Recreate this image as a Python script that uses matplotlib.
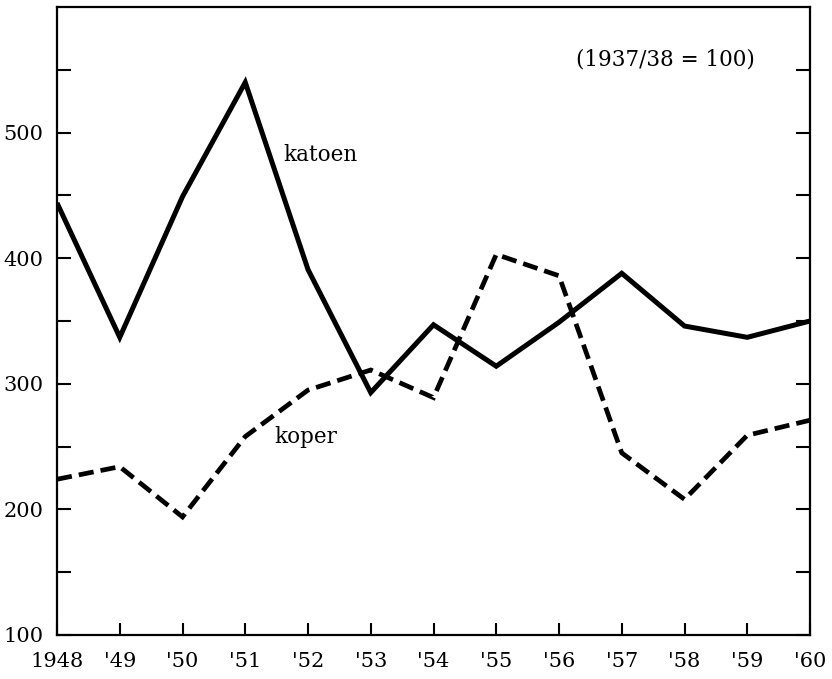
import matplotlib
matplotlib.use("Agg")
import matplotlib.pyplot as plt

years = [1948, 1949, 1950, 1951, 1952, 1953, 1954, 1955, 1956, 1957, 1958, 1959, 1960]
year_labels = ["1948", "'49", "'50", "'51", "'52", "'53", "'54", "'55", "'56", "'57", "'58", "'59", "'60"]
katoen = [444, 337, 449, 540, 391, 293, 347, 314, 349, 388, 346, 337, 350]
koper = [224, 234, 194, 258, 295, 311, 289, 403, 386, 245, 208, 259, 271]
ytick_labels = {100: "100", 200: "200", 300: "300", 400: "400", 500: "500"}

plt.rcParams['font.family'] = ['DejaVu Serif']

fig = plt.figure(figsize=(8.32, 6.79), dpi=100)
ax = fig.add_axes([57/832, 1-635/679, (810-57)/832, (635-7)/679])

ax.plot(years, katoen, color='black', lw=3.6, solid_joinstyle='miter', solid_capstyle='butt')
ax.plot(years, koper, color='black', lw=3.4, dashes=(3.2, 1.5), dash_joinstyle='miter', dash_capstyle='butt')

ax.set_xlim(1948, 1960)
ax.set_ylim(100, 600)

yt = list(range(100, 600, 50))
ax.set_yticks(yt)
ax.set_yticklabels([ytick_labels.get(v, "") for v in yt])
ax.set_xticks(years)
ax.set_xticklabels(year_labels)

ax.tick_params(axis='y', direction='in', length=10, width=1.5, labelsize=15, pad=10, right=True, left=True)
ax.tick_params(axis='x', direction='in', length=9, width=1.5, labelsize=15, pad=12)
for s in ax.spines.values():
    s.set_linewidth(1.6)

ax.text(1951.6, 482, "katoen", fontsize=15.5, ha='left', va='center')
ax.text(1951.47, 258, "koper", fontsize=15.5, ha='left', va='center')
ax.text(1959.12, 558, "(1937/38 = 100)", fontsize=15.5, ha='right', va='center')

fig.savefig("out.png", dpi=100)
